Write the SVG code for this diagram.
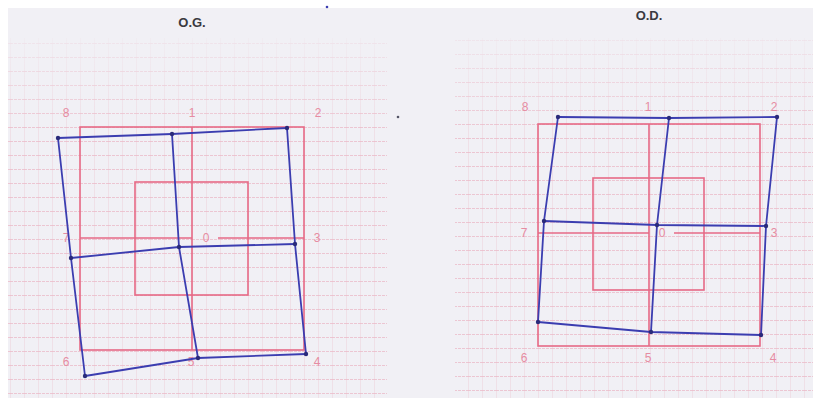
<svg xmlns="http://www.w3.org/2000/svg" width="813" height="398" viewBox="0 0 813 398">
<defs>
<pattern id="gridL" patternUnits="userSpaceOnUse" x="80" y="127" width="14" height="14">
<line x1="0" y1="0.5" x2="14" y2="0.5" stroke="#e9a9bb" stroke-width="1" stroke-dasharray="3 1" opacity="0.6"/>
<line x1="0.5" y1="0" x2="0.5" y2="14" stroke="#e9b9c6" stroke-width="1" opacity="0.3"/>
</pattern>
<pattern id="gridR" patternUnits="userSpaceOnUse" x="538" y="124" width="14" height="14">
<line x1="0" y1="0.5" x2="14" y2="0.5" stroke="#e9a9bb" stroke-width="1" stroke-dasharray="3 1" opacity="0.6"/>
<line x1="0.5" y1="0" x2="0.5" y2="14" stroke="#e9b9c6" stroke-width="1" opacity="0.3"/>
</pattern>
<linearGradient id="fade" x1="0" y1="0" x2="0" y2="1">
<stop offset="0" stop-color="#f1f0f5" stop-opacity="0.75"/>
<stop offset="1" stop-color="#f1f0f5" stop-opacity="0"/>
</linearGradient>
</defs>
<style>
.frame{fill:none;stroke:#e66a86;stroke-width:1.6}
.lbl{font-family:"Liberation Sans",Arial,sans-serif;font-size:12px;fill:#e68ca2;text-anchor:middle;dominant-baseline:central}
.title{font-family:"Liberation Sans",Arial,sans-serif;font-size:13px;font-weight:bold;fill:#3a3a40;text-anchor:middle}
.blue{fill:none;stroke:#3b3db0;stroke-width:1.8;stroke-linejoin:round}
.pt{fill:#2a2a7a}
</style>
<rect x="0" y="0" width="813" height="398" fill="#ffffff"/>
<rect x="8" y="8" width="805" height="390" fill="#f1f0f5"/>

<g id="panel-og">
<rect x="8" y="38" width="379" height="360" fill="url(#gridL)"/>
<rect x="8" y="38" width="379" height="90" fill="url(#fade)"/>
<text class="title" x="192" y="27">O.G.</text>
<g id="og-frame">
<rect class="frame" x="80" y="127" width="224" height="223"/>
<rect class="frame" x="135" y="182" width="113" height="113"/>
<line class="frame" x1="192" y1="127" x2="192" y2="350"/>
<line class="frame" x1="80" y1="238" x2="192" y2="238"/>
<line class="frame" x1="218" y1="238" x2="304" y2="238"/>
</g>
<g id="og-labels">
<text class="lbl" x="66" y="113">8</text>
<text class="lbl" x="192" y="113">1</text>
<text class="lbl" x="318" y="113">2</text>
<text class="lbl" x="66" y="238">7</text>
<text class="lbl" x="206" y="238">0</text>
<text class="lbl" x="317" y="238">3</text>
<text class="lbl" x="66" y="362">6</text>
<text class="lbl" x="191" y="362">5</text>
<text class="lbl" x="317" y="362">4</text>
</g>
<g id="og-plot">
<polyline class="blue" points="58,138 172,134 287,128"/>
<polyline class="blue" points="71,258 179,247 295,244"/>
<polyline class="blue" points="85,376 198,358 306,354"/>
<polyline class="blue" points="58,138 71,258 85,376"/>
<polyline class="blue" points="172,134 179,247 198,358"/>
<polyline class="blue" points="287,128 295,244 306,354"/>
<circle class="pt" cx="58" cy="138" r="2.2"/>
<circle class="pt" cx="172" cy="134" r="2.2"/>
<circle class="pt" cx="287" cy="128" r="2.2"/>
<circle class="pt" cx="71" cy="258" r="2.2"/>
<circle class="pt" cx="179" cy="247" r="2.2"/>
<circle class="pt" cx="295" cy="244" r="2.2"/>
<circle class="pt" cx="85" cy="376" r="2.2"/>
<circle class="pt" cx="198" cy="358" r="2.2"/>
<circle class="pt" cx="306" cy="354" r="2.2"/>
</g>
</g>

<g id="panel-od">
<rect x="455" y="38" width="358" height="360" fill="url(#gridR)"/>
<rect x="455" y="38" width="358" height="90" fill="url(#fade)"/>
<text class="title" x="649" y="20">O.D.</text>
<g id="od-frame">
<rect class="frame" x="538" y="124" width="222" height="222"/>
<rect class="frame" x="593" y="178" width="111" height="112"/>
<line class="frame" x1="649" y1="124" x2="649" y2="346"/>
<line class="frame" x1="538" y1="233" x2="649" y2="233"/>
<line class="frame" x1="674" y1="233" x2="760" y2="233"/>
</g>
<g id="od-labels">
<text class="lbl" x="525" y="107">8</text>
<text class="lbl" x="648" y="107">1</text>
<text class="lbl" x="774" y="107">2</text>
<text class="lbl" x="524" y="233">7</text>
<text class="lbl" x="662" y="233">0</text>
<text class="lbl" x="774" y="233">3</text>
<text class="lbl" x="524" y="358">6</text>
<text class="lbl" x="648" y="358">5</text>
<text class="lbl" x="773" y="358">4</text>
</g>
<g id="od-plot">
<polyline class="blue" points="558,117 669,118 777,117"/>
<polyline class="blue" points="544,221 657,225 766,226"/>
<polyline class="blue" points="538,322 651,332 761,335"/>
<polyline class="blue" points="558,117 544,221 538,322"/>
<polyline class="blue" points="669,118 657,225 651,332"/>
<polyline class="blue" points="777,117 766,226 761,335"/>
<circle class="pt" cx="558" cy="117" r="2.2"/>
<circle class="pt" cx="669" cy="118" r="2.2"/>
<circle class="pt" cx="777" cy="117" r="2.2"/>
<circle class="pt" cx="544" cy="221" r="2.2"/>
<circle class="pt" cx="657" cy="225" r="2.2"/>
<circle class="pt" cx="766" cy="226" r="2.2"/>
<circle class="pt" cx="538" cy="322" r="2.2"/>
<circle class="pt" cx="651" cy="332" r="2.2"/>
<circle class="pt" cx="761" cy="335" r="2.2"/>
</g>
</g>
<circle cx="398" cy="117" r="1.3" fill="#555566"/>
<circle cx="327" cy="7" r="1.3" fill="#3b3db0"/>
</svg>
